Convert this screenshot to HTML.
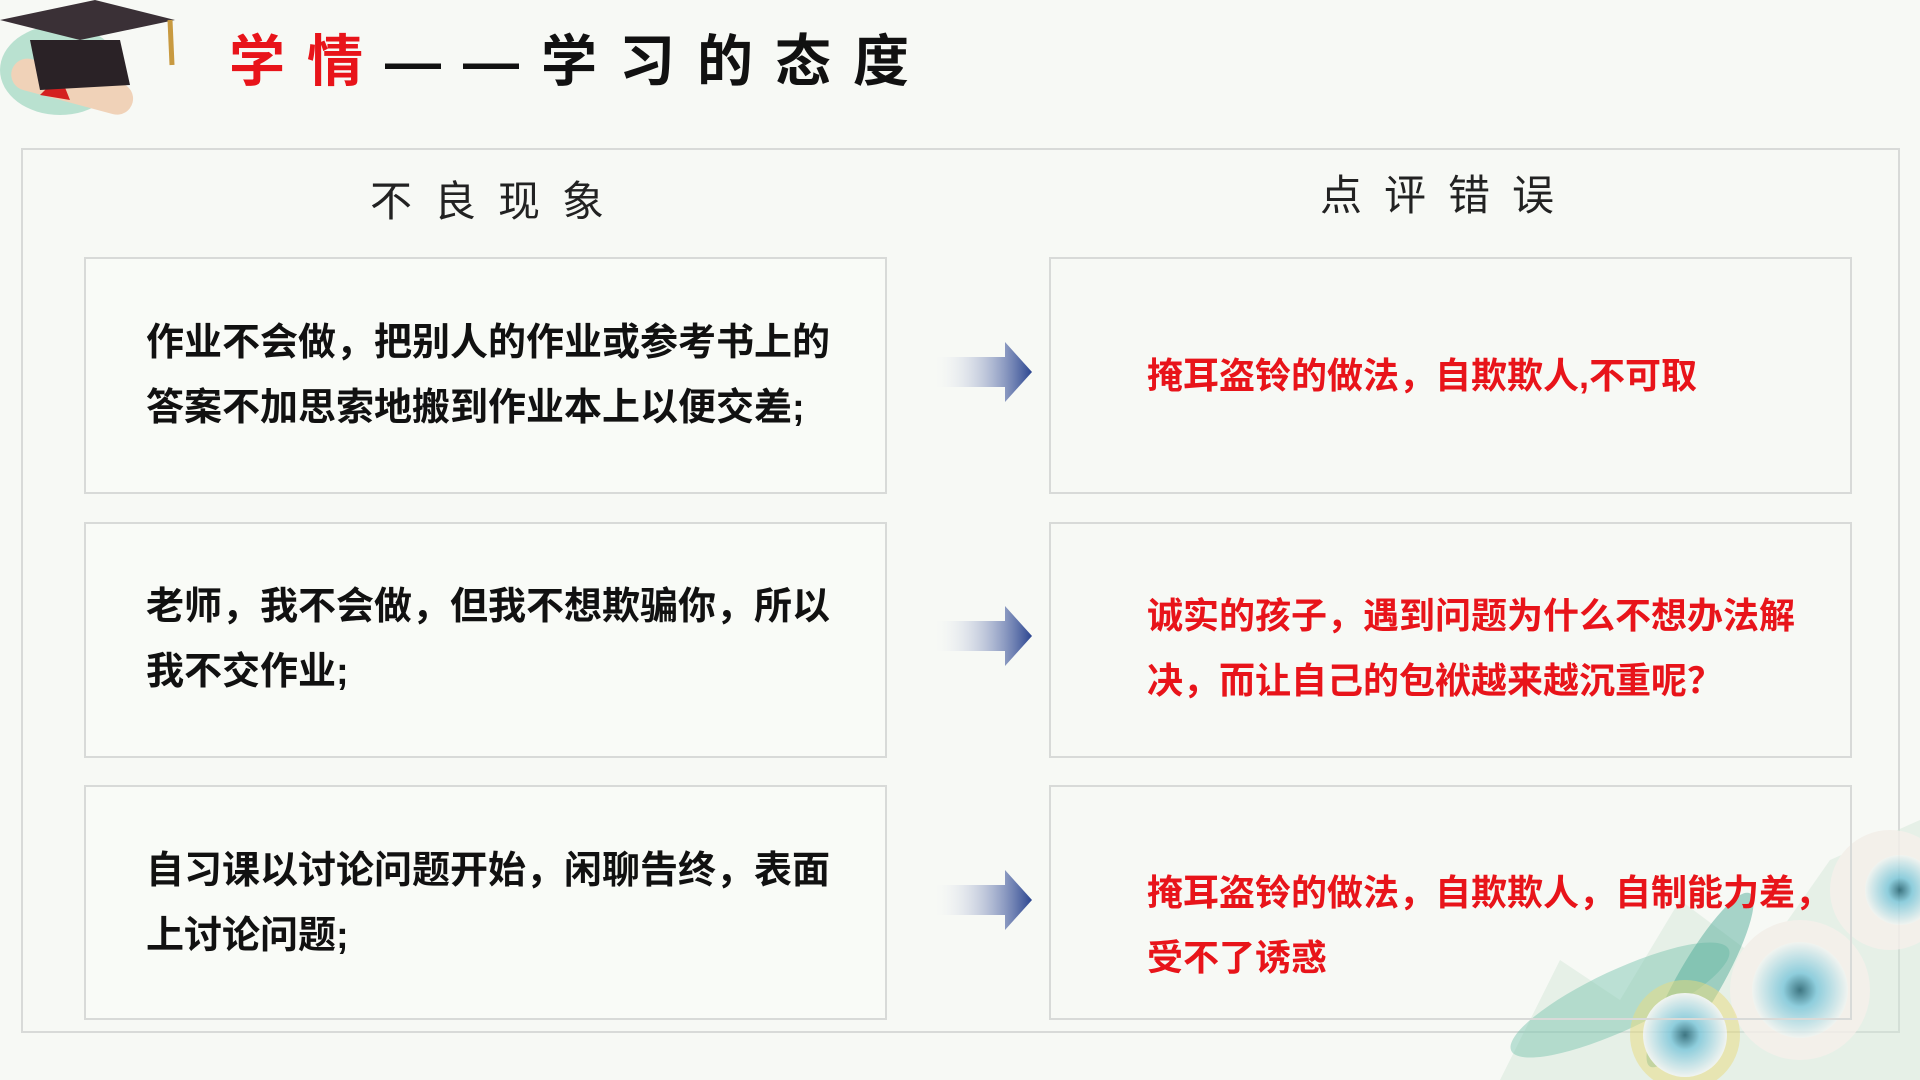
<!DOCTYPE html>
<html><head><meta charset="utf-8"><style>
body{margin:0;width:1920px;height:1080px;overflow:hidden;background:#f7f9f5;position:relative;font-family:"Liberation Sans","Noto Sans CJK SC",sans-serif}
.abs{position:absolute}
.box{position:absolute;border:2px solid #d8dad8;box-sizing:border-box;background:rgba(250,252,249,.6)}
.t{position:absolute;font-size:38px;font-weight:bold;line-height:65px;white-space:nowrap;color:#111}
.r{color:#e8141a;font-size:36px}
.hd{position:absolute;font-size:42px;letter-spacing:22px;color:#222;white-space:nowrap}
</style></head><body>
<svg class="abs" style="left:0;top:0" width="1920" height="1080">
<defs>
<linearGradient id="ag" x1="0" x2="1"><stop offset="0" stop-color="#fff" stop-opacity="0"/><stop offset="1" stop-color="#2b4590"/></linearGradient>
<radialGradient id="fl" cx=".5" cy=".5" r=".5"><stop offset="0" stop-color="#1e5f6e"/><stop offset=".35" stop-color="#7cc6d8"/><stop offset="1" stop-color="#f0f3ef"/></radialGradient>
</defs>
<ellipse cx="60" cy="70" rx="60" ry="45" fill="#8fd0b8" opacity=".6"/>
<rect x="10" y="70" width="125" height="32" rx="16" fill="#f0d2b8" transform="rotate(15 70 85)"/>
<path d="M60 75 L40 95 L70 100Z" fill="#d42020"/>
<path d="M30 40 L120 40 L130 85 L40 90Z" fill="#2a2226"/>
<path d="M0 20 L95 0 L175 20 L80 40Z" fill="#3a3036"/>
<line x1="170" y1="20" x2="172" y2="65" stroke="#c89a40" stroke-width="5"/>
<rect x="22" y="149" width="1877" height="883" fill="none" stroke="#d8dad8" stroke-width="2"/>
<g fill="url(#ag)">
<path d="M931 357 L1005 357 L1005 342 L1032 372 L1005 402 L1005 387 L931 387Z"/>
<path d="M931 621 L1005 621 L1005 606 L1032 636 L1005 666 L1005 651 L931 651Z"/>
<path d="M931 885 L1005 885 L1005 870 L1032 900 L1005 930 L1005 915 L931 915Z"/>
</g>
<g opacity=".85">
<path d="M1500 1080 L1560 960 L1620 1000 L1680 900 L1760 960 L1830 860 L1920 820 L1920 1080Z" fill="#cfe6d6" opacity=".5"/>
<ellipse cx="1620" cy="1000" rx="120" ry="30" fill="#6bbfa8" opacity=".5" transform="rotate(-25 1620 1000)"/>
<ellipse cx="1700" cy="980" rx="100" ry="22" fill="#3a9f8c" opacity=".5" transform="rotate(-60 1700 980)"/>
<circle cx="1800" cy="990" r="70" fill="#f3efe9"/>
<circle cx="1800" cy="990" r="48" fill="url(#fl)"/>
<circle cx="1685" cy="1035" r="55" fill="#e8d66a" opacity=".5"/>
<circle cx="1685" cy="1035" r="42" fill="url(#fl)"/>
<circle cx="1890" cy="890" r="60" fill="#f3efe9"/>
<circle cx="1900" cy="890" r="35" fill="url(#fl)"/>
</g>
</svg>
<div class="abs" style="left:229px;top:26px;font-size:56px;font-weight:bold;letter-spacing:22px;white-space:nowrap;line-height:72px"><span style="color:#e8141a">学情</span><span style="color:#111">——学习的态度</span></div>
<div class="hd" style="left:370px;top:168px">不良现象</div>
<div class="hd" style="left:1320px;top:162px">点评错误</div>
<div class="box" style="left:84px;top:257px;width:803px;height:237px"></div>
<div class="box" style="left:84px;top:522px;width:803px;height:236px"></div>
<div class="box" style="left:84px;top:785px;width:803px;height:235px"></div>
<div class="box" style="left:1049px;top:257px;width:803px;height:237px;background:none"></div>
<div class="box" style="left:1049px;top:522px;width:803px;height:236px;background:none"></div>
<div class="box" style="left:1049px;top:785px;width:803px;height:235px;background:none"></div>
<div class="t" style="left:146px;top:311px">作业不会做，把别人的作业或参考书上的<br>答案不加思索地搬到作业本上以便交差;</div>
<div class="t" style="left:146px;top:575px">老师，我不会做，但我不想欺骗你，所以<br>我不交作业;</div>
<div class="t" style="left:146px;top:839px">自习课以讨论问题开始，闲聊告终，表面<br>上讨论问题;</div>
<div class="t r" style="left:1147px;top:343px">掩耳盗铃的做法，自欺欺人,不可取</div>
<div class="t r" style="left:1147px;top:583px">诚实的孩子，遇到问题为什么不想办法解<br>决，而让自己的包袱越来越沉重呢？</div>
<div class="t r" style="left:1147px;top:860px">掩耳盗铃的做法，自欺欺人，自制能力差，<br>受不了诱惑</div>
</body></html>
